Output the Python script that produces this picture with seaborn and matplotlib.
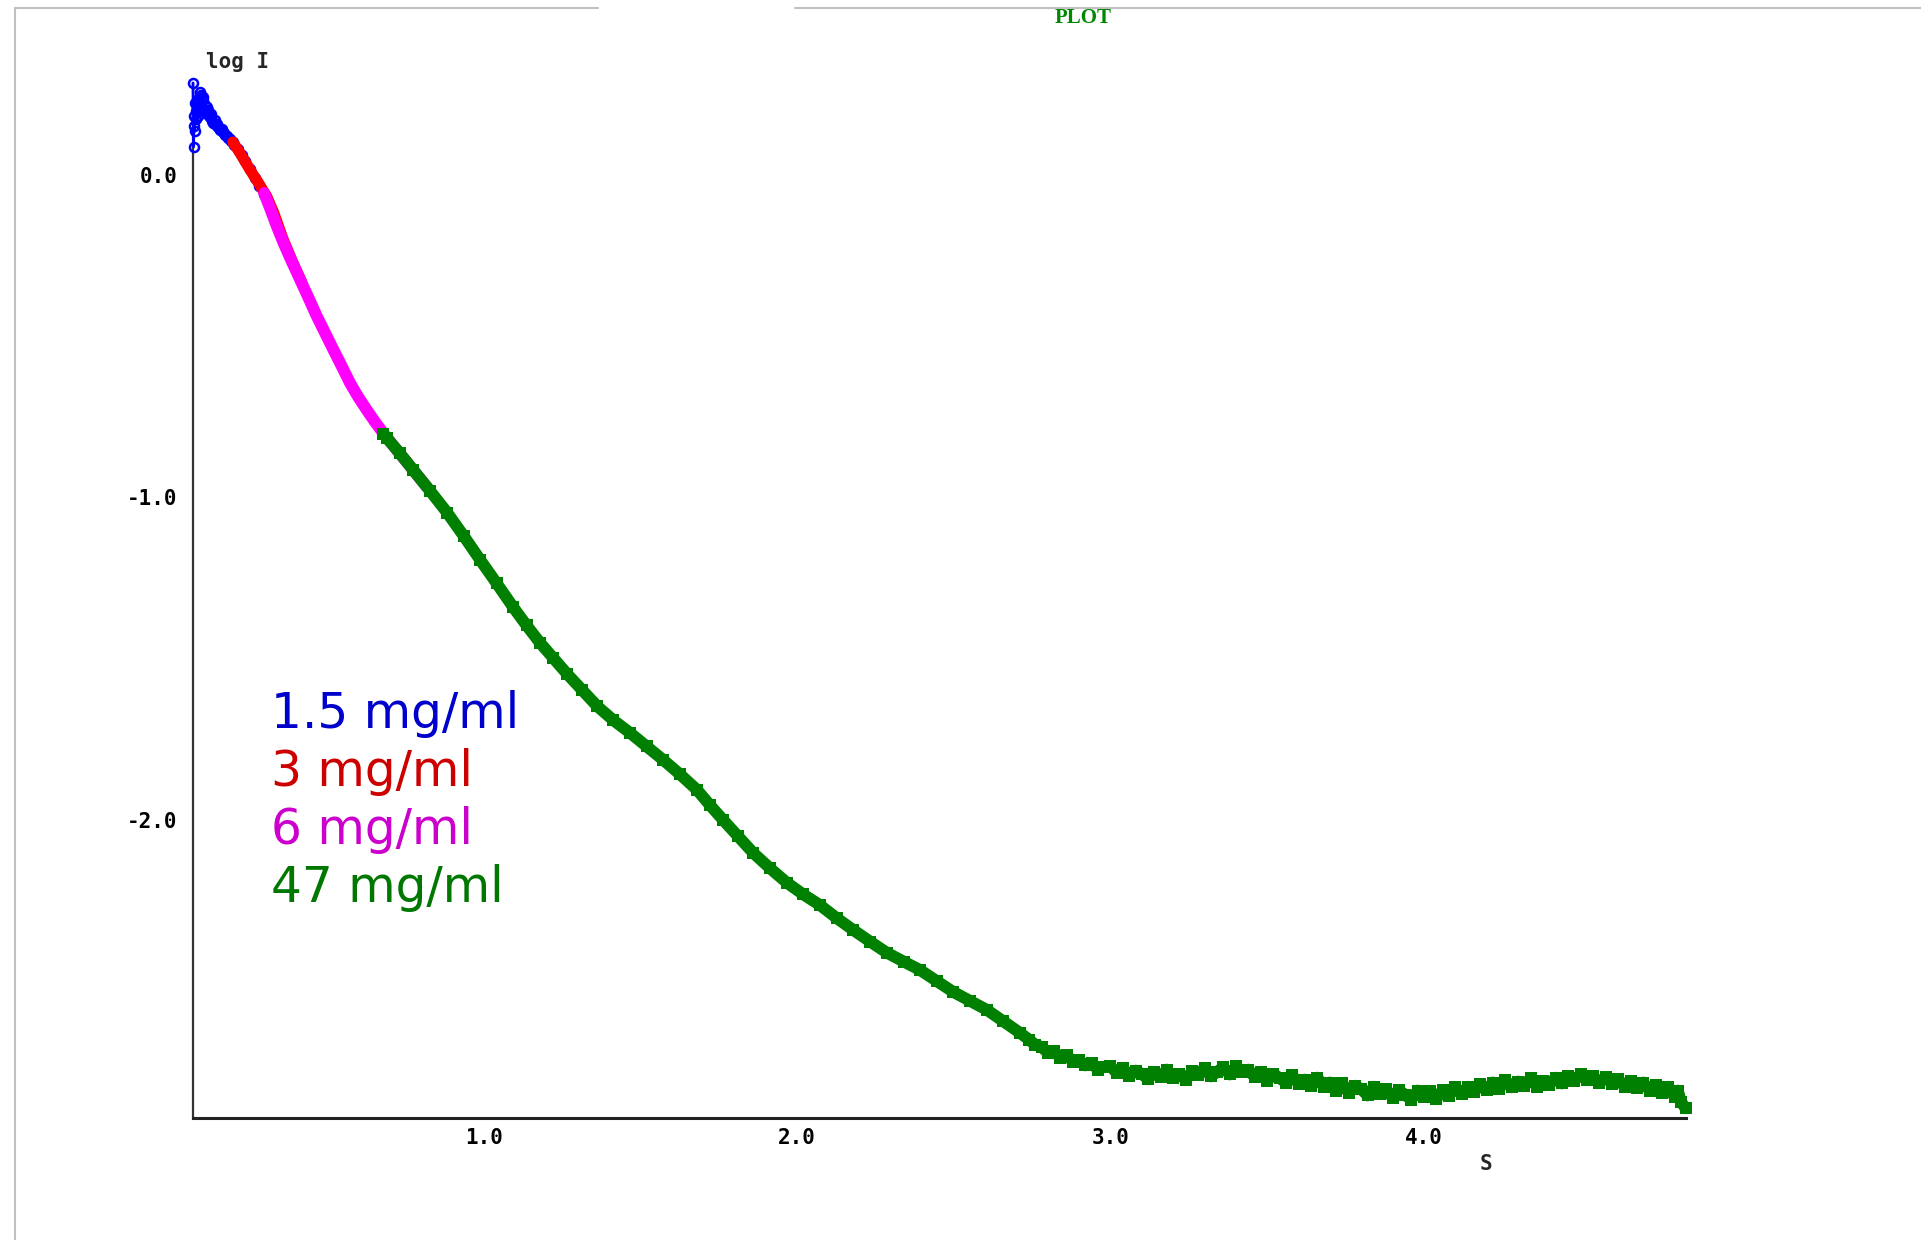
import numpy as np
import pandas as pd
import matplotlib
matplotlib.use("Agg")
import matplotlib.pyplot as plt
import matplotlib.transforms as mtransforms
from matplotlib.lines import Line2D
import seaborn as sns

# ---------------- data ----------------
s_15 = [0.073, 0.075, 0.076, 0.077, 0.078, 0.080, 0.081, 0.083, 0.085, 0.086,
        0.088, 0.090, 0.092, 0.094, 0.096, 0.098, 0.100, 0.102, 0.104, 0.106,
        0.108, 0.110, 0.113, 0.115, 0.118, 0.120, 0.123, 0.126, 0.129, 0.132,
        0.135, 0.138, 0.142, 0.145, 0.149, 0.152, 0.156, 0.160, 0.164, 0.168,
        0.172, 0.176, 0.180, 0.185, 0.190, 0.195, 0.200, 0.205, 0.215, 0.228,
        0.240, 0.255, 0.270, 0.285, 0.300]
logI_15 = [0.253, 0.055, 0.150, 0.120, 0.103, 0.190, 0.165, 0.140, 0.180, 0.200,
           0.150, 0.165, 0.205, 0.225, 0.195, 0.215, 0.180, 0.175, 0.210, 0.200,
           0.170, 0.185, 0.165, 0.160, 0.180, 0.170, 0.150, 0.150, 0.158, 0.145,
           0.135, 0.130, 0.138, 0.122, 0.126, 0.118, 0.112, 0.108, 0.110, 0.100,
           0.098, 0.092, 0.090, 0.083, 0.080, 0.073, 0.070, 0.062, 0.048, 0.030,
           0.010, -0.015, -0.042, -0.066, -0.092]

s_3 = [0.200, 0.215, 0.229, 0.242, 0.255, 0.268, 0.282, 0.295, 0.308, 0.330,
       0.360, 0.390, 0.420]
logI_3 = [0.070, 0.048, 0.026, 0.005, -0.016, -0.036, -0.057, -0.078, -0.098, -0.148,
          -0.230, -0.300, -0.365]

s_6 = [0.300, 0.320, 0.340, 0.362, 0.388, 0.415, 0.442, 0.468, 0.495, 0.521,
       0.548, 0.574, 0.600, 0.627, 0.654, 0.680, 0.723, 0.770, 0.820]
logI_6 = [-0.088, -0.138, -0.190, -0.243, -0.300, -0.357, -0.414, -0.470, -0.523, -0.574,
          -0.626, -0.677, -0.720, -0.760, -0.798, -0.832, -0.884, -0.940, -1.000]

s_47 = [0.680, 0.692, 0.733, 0.775, 0.830, 0.884, 0.936, 0.989, 1.042, 1.094,
        1.137, 1.180, 1.223, 1.266, 1.314, 1.362, 1.414, 1.467, 1.520, 1.573,
        1.627, 1.681, 1.722, 1.764, 1.812, 1.860, 1.914, 1.968, 2.020, 2.073,
        2.126, 2.179, 2.233, 2.287, 2.340, 2.392, 2.445, 2.498, 2.552, 2.606,
        2.658, 2.711, 2.740, 2.760, 2.780, 2.800, 2.820, 2.840, 2.860, 2.880,
        2.900, 2.920, 2.940, 2.960, 2.980,
        3.00, 3.02, 3.04, 3.06, 3.08, 3.10, 3.12, 3.14, 3.16, 3.18,
        3.20, 3.22, 3.24, 3.26, 3.28, 3.30, 3.32, 3.34, 3.36, 3.38,
        3.40, 3.42, 3.44, 3.46, 3.48, 3.50, 3.52, 3.54, 3.56, 3.58,
        3.60, 3.62, 3.64, 3.66, 3.68, 3.70, 3.72, 3.74, 3.76, 3.78,
        3.80, 3.82, 3.84, 3.86, 3.88, 3.90, 3.92, 3.94, 3.96, 3.98,
        4.00, 4.02, 4.04, 4.06, 4.08, 4.10, 4.12, 4.14, 4.16, 4.18,
        4.20, 4.22, 4.24, 4.26, 4.28, 4.30, 4.32, 4.34, 4.36, 4.38,
        4.40, 4.42, 4.44, 4.46, 4.48, 4.50, 4.52, 4.54, 4.56, 4.58,
        4.60, 4.62, 4.64, 4.66, 4.68, 4.70, 4.72, 4.74, 4.76, 4.78,
        4.80, 4.81, 4.82, 4.835]
logI_47 = [-0.835, -0.848, -0.895, -0.946, -1.012, -1.079, -1.150, -1.225, -1.298, -1.371,
           -1.428, -1.482, -1.530, -1.578, -1.628, -1.678, -1.722, -1.761, -1.803, -1.845,
           -1.890, -1.938, -1.985, -2.031, -2.082, -2.133, -2.181, -2.226, -2.262, -2.295,
           -2.335, -2.372, -2.408, -2.443, -2.470, -2.496, -2.530, -2.564, -2.592, -2.620,
           -2.655, -2.691, -2.712, -2.728, -2.735, -2.752, -2.748, -2.768, -2.760, -2.780,
           -2.776, -2.792, -2.784, -2.805, -2.796,
           -2.795, -2.815, -2.800, -2.825, -2.808, -2.818, -2.835, -2.812, -2.828, -2.805,
           -2.830, -2.818, -2.838, -2.810, -2.822, -2.800, -2.826, -2.812, -2.798, -2.820,
           -2.795, -2.812, -2.805, -2.828, -2.812, -2.840, -2.818, -2.832, -2.845, -2.822,
           -2.850, -2.836, -2.855, -2.830, -2.858, -2.845, -2.870, -2.848, -2.878, -2.855,
           -2.865, -2.885, -2.858, -2.880, -2.866, -2.892, -2.868, -2.884, -2.898, -2.870,
           -2.890, -2.872, -2.895, -2.868, -2.886, -2.860, -2.880, -2.858, -2.875, -2.850,
           -2.868, -2.845, -2.865, -2.838, -2.860, -2.842, -2.855, -2.832, -2.858, -2.840,
           -2.852, -2.830, -2.848, -2.825, -2.840, -2.818, -2.838, -2.826, -2.845, -2.828,
           -2.850, -2.835, -2.858, -2.840, -2.862, -2.845, -2.870, -2.852, -2.878, -2.858,
           -2.890, -2.870, -2.905, -2.925]

legend_labels = ["1.5 mg/ml", "3 mg/ml", "6 mg/ml", "47 mg/ml"]
legend_colors = ["#0000cc", "#cc0000", "#cc00cc", "#007700"]

x_ticks = [1.0, 2.0, 3.0, 4.0]
x_ticklabels = ["1.0", "2.0", "3.0", "4.0"]
y_ticks = [0.0, -1.0, -2.0]
y_ticklabels = ["0.0", "-1.0", "-2.0"]

# ---------------- figure ----------------
sns.set_style("white")
W, H, DPI = 1921, 1240, 100
fig = plt.figure(figsize=(W / DPI, H / DPI), dpi=DPI)
fig.patch.set_facecolor("white")

ax_left, ax_right = 193 / W, 1686 / W
ax_bottom, ax_top = 1 - 1118 / H, 1 - 83 / H
ax = fig.add_axes([ax_left, ax_bottom, ax_right - ax_left, ax_top - ax_bottom])
ax.set_facecolor("white")

df15 = pd.DataFrame({"s": s_15, "logI": logI_15})
df3 = pd.DataFrame({"s": s_3, "logI": logI_3})
df6 = pd.DataFrame({"s": s_6, "logI": logI_6})
df47 = pd.DataFrame({"s": s_47, "logI": logI_47})

sns.lineplot(data=df15, x="s", y="logI", ax=ax, sort=False, estimator=None,
             color="#0000ff", lw=2.0, marker="o", markersize=6.5,
             markerfacecolor="none", markeredgecolor="#0000ff", markeredgewidth=1.8,
             clip_on=False, zorder=3)
sns.lineplot(data=df3, x="s", y="logI", ax=ax, sort=False, estimator=None,
             color="#ff0000", lw=8, marker="s", markersize=6,
             markeredgewidth=0, clip_on=False, zorder=4)
sns.lineplot(data=df6, x="s", y="logI", ax=ax, sort=False, estimator=None,
             color="#ff00ff", lw=8.5, marker="s", markersize=6,
             markeredgewidth=0, clip_on=False, zorder=5)
sns.lineplot(data=df47, x="s", y="logI", ax=ax, sort=False, estimator=None,
             color="#008000", lw=8.5, marker="s", markersize=8.5,
             markeredgewidth=0, clip_on=False, zorder=6)

ax.set_xlim(0.073, 4.836)
ax.set_ylim(-2.955, 0.253)
ax.set_xlabel("")
ax.set_ylabel("")

for side in ["top", "right"]:
    ax.spines[side].set_visible(False)
ax.spines["left"].set_color("#333333")
ax.spines["left"].set_linewidth(1.6)
ax.spines["bottom"].set_color("#222222")
ax.spines["bottom"].set_linewidth(2.2)

ax.set_xticks(x_ticks)
ax.set_xticklabels(x_ticklabels)
ax.set_yticks(y_ticks)
ax.set_yticklabels(y_ticklabels)
ax.tick_params(axis="both", direction="in", length=8, width=1.4, colors="#333333")
ax.tick_params(axis="y", pad=11)
ax.tick_params(axis="x", pad=7)
for lab in ax.get_xticklabels() + ax.get_yticklabels():
    lab.set_fontfamily("DejaVu Sans Mono")
    lab.set_fontweight("bold")
    lab.set_fontsize(15)
    lab.set_color("black")
offset = mtransforms.ScaledTranslation(0, -10 / DPI, fig.dpi_scale_trans)
for lab in ax.get_yticklabels():
    lab.set_transform(lab.get_transform() + offset)

# axis titles
fig.text(238 / W, 1 - 62 / H, "log I", ha="center", va="center",
         family="DejaVu Sans Mono", fontweight="bold", fontsize=15)
fig.text(1486 / W, 1 - 1164 / H, "S", ha="center", va="center",
         family="DejaVu Sans Mono", fontweight="bold", fontsize=15)
fig.text(1083 / W, 1 - 18 / H, "PLOT", ha="center", va="center",
         family="Liberation Serif", fontweight="bold", fontsize=15, color="#008800")

# concentration labels
baselines = [728, 786, 844, 902]
for lab, col, b in zip(legend_labels, legend_colors, baselines):
    fig.text(271 / W, 1 - b / H, lab, ha="left", va="baseline",
             family="DejaVu Sans", fontsize=35, color=col)

# window frame lines (grey)
fig.add_artist(Line2D([15 / W, 15 / W], [0, 1 - 8 / H], color="#c0c0c0", lw=1.5,
                      transform=fig.transFigure))
fig.add_artist(Line2D([15 / W, 598 / W], [1 - 8 / H, 1 - 8 / H], color="#c0c0c0", lw=1.5,
                      transform=fig.transFigure))
fig.add_artist(Line2D([795 / W, 1.0], [1 - 8 / H, 1 - 8 / H], color="#c0c0c0", lw=1.5,
                      transform=fig.transFigure))

fig.savefig("out.png", dpi=DPI, facecolor="white")
